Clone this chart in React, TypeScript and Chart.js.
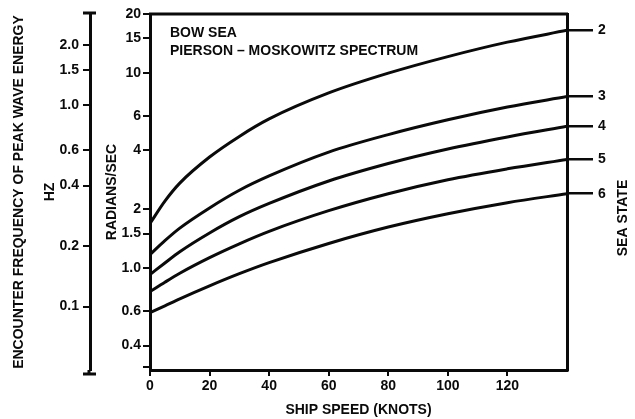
import React, { useEffect, useRef } from 'react';
import { Chart, registerables } from 'chart.js';

Chart.register(...registerables);

// ---- data ----
const shipSpeeds = [0, 5, 10, 20, 30, 40, 60, 80, 100, 120, 140];
const seaState2 = [1.69, 2.2, 2.72, 3.7, 4.72, 5.8, 7.88, 9.95, 12.1, 14.35, 16.5];
const seaState3 = [1.17, 1.38, 1.6, 2.03, 2.5, 2.96, 3.92, 4.82, 5.74, 6.67, 7.55];
const seaState4 = [0.925, 1.06, 1.21, 1.51, 1.83, 2.14, 2.79, 3.43, 4.07, 4.69, 5.32];
const seaState5 = [0.755, 0.845, 0.94, 1.13, 1.33, 1.54, 1.965, 2.4, 2.83, 3.22, 3.6];
const seaState6 = [0.59, 0.64, 0.695, 0.81, 0.935, 1.065, 1.335, 1.62, 1.895, 2.16, 2.4];
const seaStateLabels = ['2', '3', '4', '5', '6'];

const speedTicks = [0, 20, 40, 60, 80, 100, 120];
const radTicks = [0.31, 0.4, 0.6, 1.0, 1.5, 2, 4, 6, 10, 15, 20];
const radTickLabels = ['', '0.4', '0.6', '1.0', '1.5', '2', '4', '6', '10', '15', '20'];
const hzTicks = [0.1, 0.2, 0.4, 0.6, 1.0, 1.5, 2.0];
const hzTickLabels = ['0.1', '0.2', '0.4', '0.6', '1.0', '1.5', '2.0'];

const RAD_MIN = 0.31;
const RAD_MAX = 20;
const HZ_MIN = 0.0484;
const HZ_MAX = 2.85;
const SPEED_MAX = 140;

const FAMILY = '"Liberation Sans", Arial, Helvetica, sans-serif';
const INK = '#0a0a0a';

const series = [seaState2, seaState3, seaState4, seaState5, seaState6];

const overlayPlugin = {
  id: 'overlay',
  afterDraw(chart: any) {
    const { ctx, chartArea } = chart;
    ctx.save();
    ctx.strokeStyle = INK;
    ctx.fillStyle = INK;
    // top frame line
    ctx.lineWidth = 3;
    ctx.beginPath();
    ctx.moveTo(chartArea.left - 1, chartArea.top);
    ctx.lineTo(chartArea.right + 1, chartArea.top);
    ctx.stroke();

    // annotation text
    ctx.font = `bold 14px ${FAMILY}`;
    ctx.textAlign = 'left';
    ctx.textBaseline = 'middle';
    ctx.fillText('BOW SEA', chartArea.left + 20, chartArea.top + 19);
    ctx.fillText('PIERSON \u2013 MOSKOWITZ SPECTRUM', chartArea.left + 20, chartArea.top + 37);

    // SEA STATE title (reads bottom to top)
    ctx.save();
    ctx.translate(623, 218);
    ctx.rotate(-Math.PI / 2);
    ctx.textAlign = 'center';
    ctx.fillText('SEA STATE', 0, 0);
    ctx.restore();

    // caps on the Hz axis
    const hz = chart.scales.yHz;
    const ax = hz.right - 1;
    ctx.lineWidth = 3;
    ctx.beginPath();
    ctx.moveTo(ax, hz.bottom);
    ctx.lineTo(ax, hz.bottom + 4);
    ctx.moveTo(ax - 6, hz.bottom + 4);
    ctx.lineTo(ax + 7, hz.bottom + 4);
    ctx.moveTo(ax - 6, hz.top - 1);
    ctx.lineTo(ax + 7, hz.top - 1);
    ctx.stroke();
    ctx.restore();
  },
};

export default function App() {
  const canvasRef = useRef<HTMLCanvasElement | null>(null);

  useEffect(() => {
    if (!canvasRef.current) return;
    const tickFont = { family: FAMILY, size: 14, weight: 'bold' as const };
    const titleFont = { family: FAMILY, size: 14, weight: 'bold' as const };

    const chart = new Chart(canvasRef.current, {
      type: 'line',
      data: {
        datasets: series.map((arr, si) => ({
          label: 'Sea state ' + seaStateLabels[si],
          data: shipSpeeds.map((x, i) => ({ x, y: arr[i] })),
          borderColor: INK,
          borderWidth: 3,
          pointRadius: 0,
          fill: false,
          cubicInterpolationMode: 'monotone' as const,
          yAxisID: 'y',
          xAxisID: 'x',
        })),
      },
      options: {
        animation: false,
        responsive: true,
        maintainAspectRatio: false,
        layout: { padding: { top: 14, left: 0, right: 0, bottom: 0 } },
        plugins: { legend: { display: false }, tooltip: { enabled: false } },
        events: [],
        scales: {
          x: {
            type: 'linear',
            position: 'bottom',
            min: 0,
            max: SPEED_MAX,
            afterBuildTicks: (s: any) => {
              s.ticks = speedTicks.map((v) => ({ value: v }));
            },
            ticks: { color: INK, font: tickFont, padding: 2, maxRotation: 0, autoSkip: false },
            grid: { drawOnChartArea: false, tickLength: 6, color: INK, lineWidth: 2 },
            border: { color: INK, width: 3 },
            title: {
              display: true,
              text: 'SHIP SPEED (KNOTS)',
              color: INK,
              font: titleFont,
              padding: { top: 0, bottom: 0 },
            },
            afterFit: (s: any) => {
              s.height = 49;
            },
          },
          y: {
            type: 'logarithmic',
            position: 'left',
            weight: 0,
            min: RAD_MIN,
            max: RAD_MAX,
            afterBuildTicks: (s: any) => {
              s.ticks = radTicks.map((v) => ({ value: v }));
            },
            ticks: {
              color: INK,
              font: tickFont,
              padding: 2,
              autoSkip: false,
              callback: (_v: any, i: number) => radTickLabels[i],
            },
            grid: { drawOnChartArea: false, tickLength: 7, color: INK, lineWidth: 2 },
            border: { color: INK, width: 3 },
            title: {
              display: true,
              text: 'RADIANS/SEC',
              color: INK,
              font: titleFont,
              padding: { top: 14, bottom: 0 },
            },
            afterFit: (s: any) => {
              s.width = 60;
            },
          },
          yHz: {
            type: 'logarithmic',
            position: 'left',
            weight: 1,
            min: HZ_MIN,
            max: HZ_MAX,
            afterBuildTicks: (s: any) => {
              s.ticks = hzTicks.map((v) => ({ value: v }));
            },
            ticks: {
              color: INK,
              font: tickFont,
              padding: 4,
              autoSkip: false,
              callback: (_v: any, i: number) => hzTickLabels[i],
            },
            grid: { drawOnChartArea: false, tickLength: 7, color: INK, lineWidth: 2 },
            border: { color: INK, width: 3 },
            title: {
              display: true,
              text: ['ENCOUNTER FREQUENCY OF PEAK WAVE ENERGY', 'HZ'],
              color: INK,
              font: { ...titleFont, lineHeight: 31 / 14 },
              padding: { top: 4, bottom: 0 },
            },
            afterFit: (s: any) => {
              s.width = 90;
            },
          },
          yR: {
            type: 'logarithmic',
            position: 'right',
            min: RAD_MIN,
            max: RAD_MAX,
            afterBuildTicks: (s: any) => {
              s.ticks = series.map((arr) => ({ value: arr[arr.length - 1] }));
            },
            ticks: {
              color: INK,
              font: tickFont,
              padding: 5,
              autoSkip: false,
              callback: (_v: any, i: number) => seaStateLabels[i],
            },
            grid: { drawOnChartArea: false, tickLength: 26, color: INK, lineWidth: 2.5 },
            border: { color: INK, width: 3 },
            afterFit: (s: any) => {
              s.width = 68;
            },
          },
        },
      },
      plugins: [overlayPlugin],
    });
    return () => chart.destroy();
  }, []);

  return (
    <div style={{ position: 'fixed', left: 0, top: 0, width: 635, height: 419, background: '#fff' }}>
      <canvas ref={canvasRef} />
    </div>
  );
}
